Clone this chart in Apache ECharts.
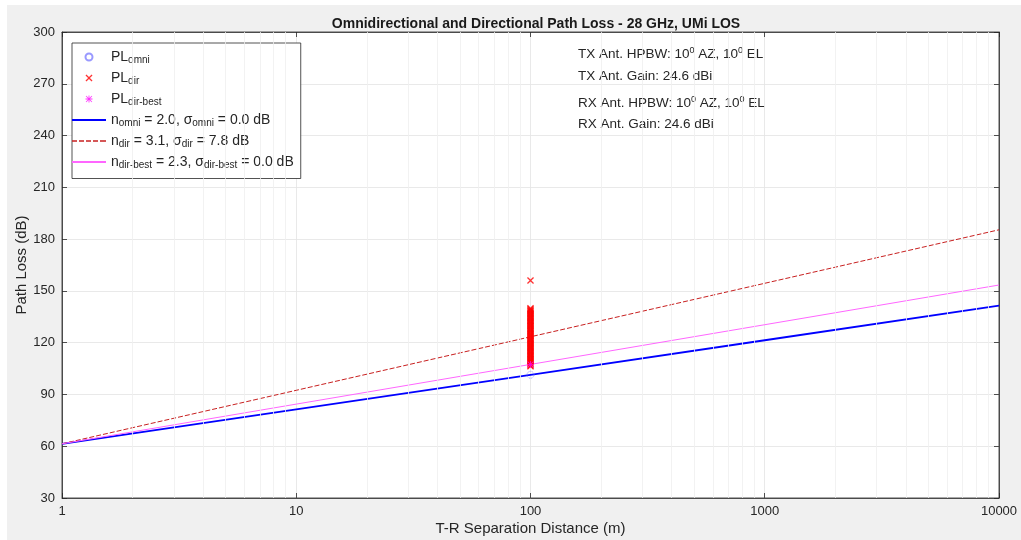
<!DOCTYPE html>
<html>
<head>
<meta charset="utf-8">
<script src="https://cdn.jsdelivr.net/npm/echarts@6/dist/echarts.min.js"></script>
<style>html,body{margin:0;padding:0;background:#fff}#c{width:1021px;height:540px}</style>
</head>
<body>
<div id="c"></div>
<script>
// ---- data ----
const titleText = 'Omnidirectional and Directional Path Loss - 28 GHz, UMi LOS';
const xName = 'T-R Separation Distance (m)';
const yName = 'Path Loss (dB)';
const yTicks = [30, 60, 90, 120, 150, 180, 210, 240, 270, 300];
const xTicks = [1, 10, 100, 1000, 10000];
const minorX = [2,3,4,5,6,7,8,9,20,30,40,50,60,70,80,90,200,300,400,500,600,700,800,900,2000,3000,4000,5000,6000,7000,8000,9000];
const lineDist = [1, 10, 100, 1000, 10000];
const omniLine = [61.4, 81.4, 101.4, 121.4, 141.4];
const dirLine = [61.4, 92.4, 123.4, 154.4, 185.4];
const bestLine = [61.4, 84.4, 107.4, 130.4, 153.4];
const measDist = 100;
const omniPts = [101.4];
const dirPts = [106.3, 106.8, 107.4, 107.9, 108.5, 109.1, 109.6, 110.2, 110.7, 111.3, 111.9, 112.4, 113.0, 113.6, 114.1, 114.7, 115.2, 115.8, 116.4, 116.9, 117.5, 118.0, 118.6, 119.2, 119.7, 120.3, 120.9, 121.4, 122.0, 122.5, 123.1, 123.7, 124.2, 124.8, 125.3, 125.9, 126.5, 127.0, 127.6, 128.1, 128.7, 129.3, 129.8, 130.4, 131.0, 131.5, 132.1, 132.6, 133.2, 133.8, 134.3, 134.9, 135.4, 136.0, 136.6, 137.1, 137.7, 138.3, 138.8, 139.4, 139.9, 156.0];
const bestPts = [107.4];
const annot = ['TX Ant. HPBW: 10{s|0} AZ, 10{s|0} EL', 'TX Ant. Gain: 24.6 dBi', 'RX Ant. HPBW: 10{s|0} AZ, 10{s|0} EL', 'RX Ant. Gain: 24.6 dBi'];

const FONT = 'Liberation Sans';
const X_PATH = 'path://M0,1.3L1.3,0L5,3.7L8.7,0L10,1.3L6.3,5L10,8.7L8.7,10L5,6.3L1.3,10L0,8.7L3.7,5Z';
const STAR_PATH = 'path://M4.4,0h1.2v10h-1.2zM0,4.4h10v1.2h-10zM1.2,0.4L9.6,8.8L8.8,9.6L0.4,1.2zM8.8,0.4L9.6,1.2L1.2,9.6L0.4,8.8z';
const LINE_ICON = 'path://M0,0h34v1.8h-34z';
const DASH_ICON = 'path://M0,0h5v1.5h-5zM7,0h5v1.5h-5zM14,0h5v1.5h-5zM21,0h5v1.5h-5zM28,0h6v1.5h-6z';

const chart = echarts.init(document.getElementById('c'), null, {renderer: 'canvas'});
const pair = (xs, ys) => ys.map((y, i) => [xs[i], y]);
const ptPairs = ys => ys.map(y => [measDist, y]);

const axisCommon = {
  axisLine: {show: true, lineStyle: {color: '#262626', width: 0.8}},
  axisTick: {show: true, inside: true, length: 5, lineStyle: {color: '#262626', width: 0.8}}
};

const legendText = {
  'PL_omni': '{n|PL}{s|omni}',
  'PL_dir': '{n|PL}{s|dir}',
  'PL_best': '{n|PL}{s|dir-best}',
  'n_omni': '{n|n}{s|omni}{n| = 2.0, σ}{s|omni}{n| = 0.0 dB}',
  'n_dir': '{n|n}{s|dir}{n| = 3.1, σ}{s|dir}{n| = 7.8 dB}',
  'n_best': '{n|n}{s|dir-best}{n| = 2.3, σ}{s|dir-best}{n| = 0.0 dB}'
};

const option = {
  backgroundColor: '#f0f0f0',
  animation: false,
  textStyle: {fontFamily: FONT},
  title: {
    text: titleText, left: 531, top: 12, textAlign: 'center',
    textStyle: {fontFamily: FONT, fontSize: 14, fontWeight: 'bold', color: '#1a1a1a'}
  },
  graphic: [
    {type: 'rect', left: 0, top: 0, shape: {width: 1021, height: 5}, style: {fill: '#ffffff'}, z: -10},
    {type: 'rect', left: 0, top: 0, shape: {width: 7, height: 540}, style: {fill: '#ffffff'}, z: -10}
  ].concat(annot.map((t, i) => ({
    type: 'text', left: 578, top: [46, 69, 95, 117][i],
    style: {text: t, fill: '#262626', font: '13.5px ' + FONT,
      rich: {s: {fontSize: 9, fill: '#262626', padding: [0, 0, 7, 0], fontFamily: FONT}}}
  }))),
  grid: {left: 62, top: 32, right: 22, bottom: 42, outerBoundsMode: 'none', containLabel: false,
    show: true, backgroundColor: '#ffffff', borderColor: '#262626', borderWidth: 0.8},
  legend: {
    orient: 'vertical', left: 72, top: 43,
    data: [
      {name: 'PL_omni'}, {name: 'PL_dir', icon: X_PATH}, {name: 'PL_best', icon: STAR_PATH},
      {name: 'n_omni', icon: LINE_ICON}, {name: 'n_dir', icon: DASH_ICON}, {name: 'n_best', icon: LINE_ICON}
    ],
    itemWidth: 34, itemHeight: 7, itemGap: 5.5,
    padding: [7, 7, 8, 0],
    backgroundColor: '#ffffff', borderColor: '#262626', borderWidth: 0.8,
    formatter: n => legendText[n],
    textStyle: {
      fontFamily: FONT, fontSize: 14, color: '#262626',
      rich: {
        n: {fontSize: 14, color: '#262626', fontFamily: FONT},
        s: {fontSize: 10, color: '#262626', fontFamily: FONT, padding: [7, 0, 0, 0]}
      }
    }
  },
  xAxis: [{
    type: 'log', logBase: 10, min: 1, max: 10000,
    name: xName, nameLocation: 'middle', nameGap: 23, nameMoveOverlap: false,
    nameTextStyle: {fontFamily: FONT, fontSize: 15, color: '#262626'},
    axisLabel: {fontFamily: FONT, fontSize: 13, color: '#262626', margin: 7, formatter: v => String(v)},
    splitLine: {show: true, lineStyle: {color: '#e3e3e3', width: 0.8}},
    ...axisCommon
  }, {
    type: 'log', logBase: 10, min: 1, max: 10000, position: 'top',
    axisLabel: {show: false}, splitLine: {show: false}, ...axisCommon
  }],
  yAxis: [{
    type: 'value', min: 30, max: 300, interval: 30,
    name: yName, nameLocation: 'middle', nameGap: 33, nameMoveOverlap: false,
    nameTextStyle: {fontFamily: FONT, fontSize: 15, color: '#262626'},
    axisLabel: {fontFamily: FONT, fontSize: 13, color: '#262626', margin: 7},
    splitLine: {show: true, lineStyle: {color: '#e3e3e3', width: 0.8}},
    ...axisCommon
  }, {
    type: 'value', min: 30, max: 300, interval: 30, position: 'right',
    axisLabel: {show: false}, splitLine: {show: false}, ...axisCommon
  }],
  series: [
    {
      name: 'PL_omni', type: 'scatter', data: ptPairs(omniPts), symbol: 'circle', symbolSize: 7, z: 4,
      itemStyle: {color: 'rgba(255,255,255,0)', borderColor: '#8080ff', borderWidth: 1, borderType: 'dotted'},
      markLine: {
        silent: true, symbol: 'none', label: {show: false}, animation: false,
        lineStyle: {color: '#efefef', width: 0.8, type: 'solid'},
        data: minorX.map(v => ({xAxis: v}))
      }
    },
    {
      name: 'PL_dir', type: 'scatter', data: ptPairs(dirPts), symbol: X_PATH, symbolSize: 7, z: 5,
      itemStyle: {color: '#ff0000'}
    },
    {
      name: 'PL_best', type: 'scatter', data: ptPairs(bestPts), symbol: STAR_PATH, symbolSize: 7, z: 6,
      itemStyle: {color: '#ff00ff'}
    },
    {
      name: 'n_omni', type: 'line', data: pair(lineDist, omniLine), showSymbol: false, symbol: 'none', z: 3,
      itemStyle: {color: '#0000ff'}, lineStyle: {color: '#0000ff', width: 1.8}
    },
    {
      name: 'n_dir', type: 'line', data: pair(lineDist, dirLine), showSymbol: false, symbol: 'none', z: 3,
      itemStyle: {color: '#c82020'}, lineStyle: {color: '#c82020', width: 1, type: [5, 2]}
    },
    {
      name: 'n_best', type: 'line', data: pair(lineDist, bestLine), showSymbol: false, symbol: 'none', z: 3,
      itemStyle: {color: '#ff66ff'}, lineStyle: {color: '#ff66ff', width: 1}
    }
  ]
};
chart.setOption(option);
</script>
</body>
</html>
